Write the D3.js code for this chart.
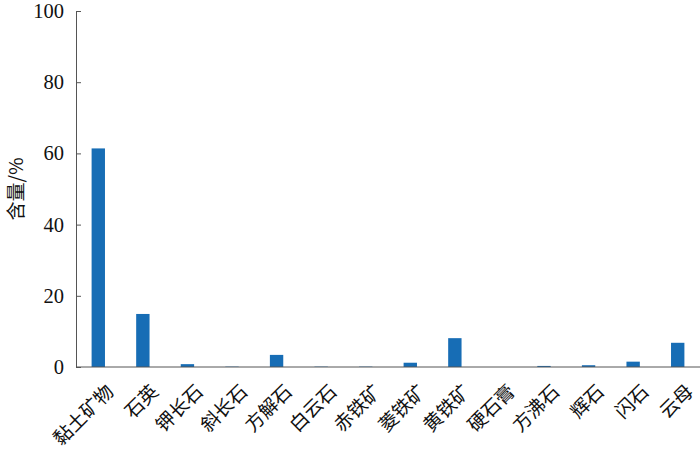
<!DOCTYPE html>
<html>
<head>
<meta charset="utf-8">
<script src="https://cdn.jsdelivr.net/npm/d3@7"></script>
<style>
  body { margin: 0; background: #fff; }
  svg { display: block; }
</style>
</head>
<body>
<div id="chart"></div>
<script>
// chart size
var width = 700;
var height = 455;

// data
var minerals = ["黏土矿物", "石英", "钾长石", "斜长石", "方解石", "白云石", "赤铁矿",
  "菱铁矿", "黄铁矿", "硬石膏", "方沸石", "辉石", "闪石", "云母"];
var contents = [61.4, 14.9, 0.8, 0.1, 3.4, 0.1, 0.1, 1.2, 8.1, 0, 0.3, 0.5, 1.5, 6.8];
var yTicks = [0, 20, 40, 60, 80, 100];

var margin = {left: 76, right: 0, top: 11, bottom: 88};

var x = d3.scaleBand()
  .domain(minerals)
  .range([margin.left, width])
  .paddingInner(0.7)
  .paddingOuter(0.35);

var y = d3.scaleLinear()
  .domain([0, 100])
  .range([height - margin.bottom, margin.top]);

var svg = d3.select("#chart")
  .append("svg")
  .attr("width", width)
  .attr("height", height);

// bars
svg.selectAll("rect.bar")
  .data(contents)
  .enter()
  .append("rect")
    .attr("class", "bar")
    .attr("x", function(d, i) { return x(minerals[i]); })
    .attr("width", x.bandwidth())
    .attr("y", function(d) { return y(d); })
    .attr("height", function(d) { return y(0) - y(d); })
    .style("fill", "#176db5");

// y axis (ticks pointing inwards)
var yAxis = svg.append("g")
  .attr("transform", "translate(" + margin.left + ",0)")
  .call(d3.axisLeft(y).tickValues(yTicks).tickSizeInner(-5).tickSizeOuter(0).tickPadding(12));
yAxis.select(".domain").attr("stroke", "#555");
yAxis.selectAll(".tick line").attr("stroke", "#555");
yAxis.selectAll("text")
  .style("font-family", "'Liberation Serif', 'Times New Roman', serif")
  .style("font-size", "20.5px")
  .attr("fill", "#111");

// x axis line
svg.append("line")
  .attr("x1", margin.left)
  .attr("x2", width)
  .attr("y1", y(0))
  .attr("y2", y(0))
  .attr("stroke", "#555");

// category labels, rotated
svg.selectAll("text.cat")
  .data(minerals)
  .enter()
  .append("text")
    .attr("class", "cat")
    .attr("transform", function(d) {
      return "translate(" + (x(d) + x.bandwidth() / 2 + 12) + "," + (y(0) + 21) + ") rotate(-45)";
    })
    .attr("text-anchor", "end")
    .attr("dy", "0.35em")
    .style("font-family", "'Noto Sans CJK SC', sans-serif")
    .style("font-size", "19px")
    .attr("fill", "#111")
    .text(function(d) { return d; });

// y label
svg.append("text")
  .attr("transform", "translate(16," + ((y(0) + y(100)) / 2) + ") rotate(-90)")
  .attr("text-anchor", "middle")
  .attr("dy", "0.35em")
  .style("font-family", "'Noto Sans CJK SC', 'Liberation Serif', serif")
  .style("font-size", "19px")
  .attr("fill", "#111")
  .text("含量/%");
</script>
</body>
</html>
